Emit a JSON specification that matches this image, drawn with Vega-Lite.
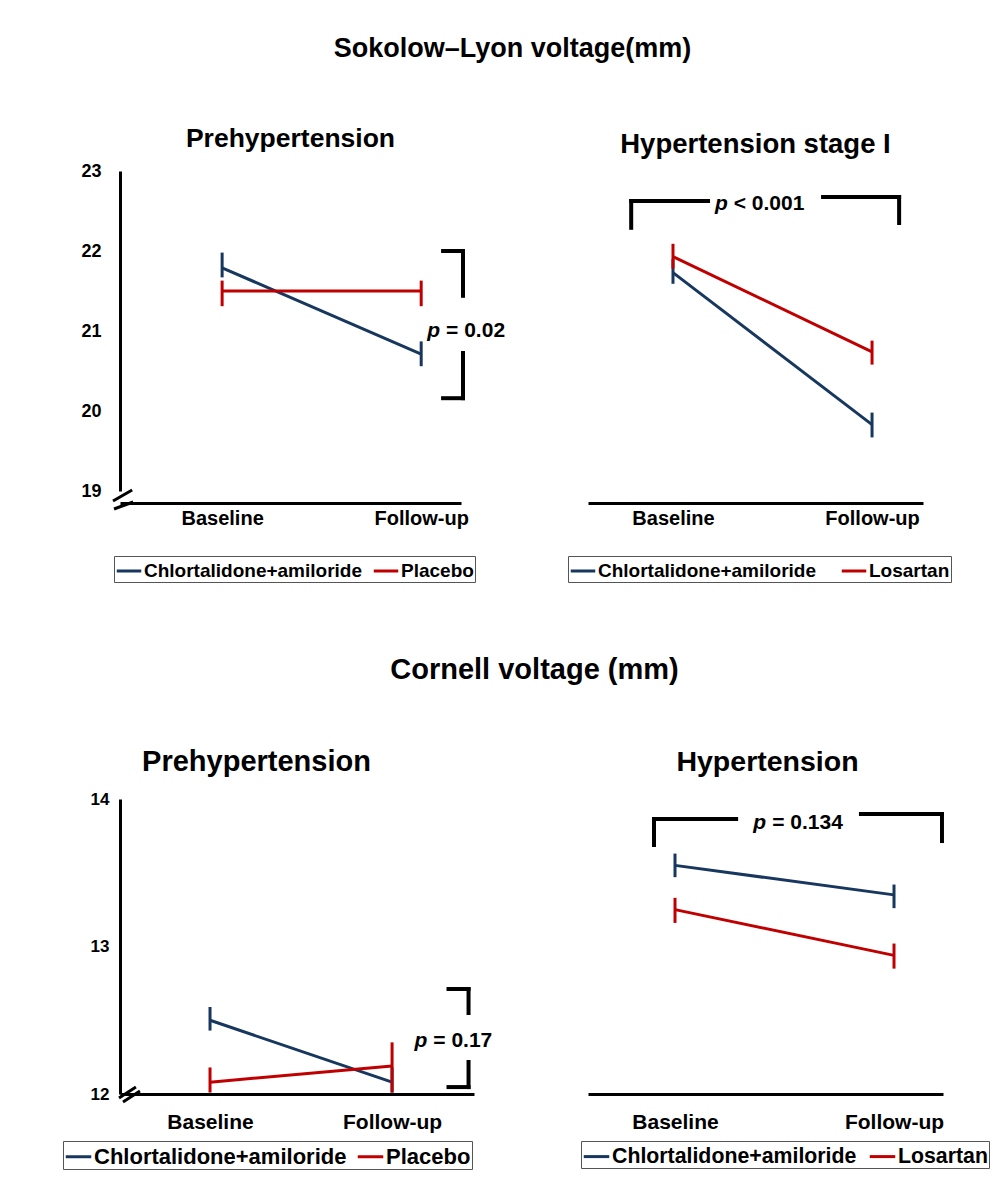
{
  "$schema": "https://vega.github.io/schema/vega-lite/v6.json",
  "padding": {"left": 62, "top": 34, "right": 5, "bottom": 5},
  "bounds": "flush",
  "columns": 2,
  "spacing": {"row": 308, "column": 114},
  "datasets": {
    "series": [
      {"panel": "TL", "group": "Chlortalidone+amiloride", "t": 0, "v": 21.79, "lo": 21.67, "hi": 21.98},
      {"panel": "TL", "group": "Chlortalidone+amiloride", "t": 1, "v": 20.71, "lo": 20.56, "hi": 20.87},
      {"panel": "TL", "group": "Placebo", "t": 0, "v": 21.5, "lo": 21.31, "hi": 21.63},
      {"panel": "TL", "group": "Placebo", "t": 1, "v": 21.5, "lo": 21.31, "hi": 21.63},
      {"panel": "TR", "group": "Chlortalidone+amiloride", "t": 0, "v": 21.73, "lo": 21.59, "hi": 21.9},
      {"panel": "TR", "group": "Chlortalidone+amiloride", "t": 1, "v": 19.83, "lo": 19.67, "hi": 19.98},
      {"panel": "TR", "group": "Losartan", "t": 0, "v": 21.93, "lo": 21.78, "hi": 22.09},
      {"panel": "TR", "group": "Losartan", "t": 1, "v": 20.74, "lo": 20.58, "hi": 20.88},
      {"panel": "BL", "group": "Chlortalidone+amiloride", "t": 0, "v": 12.5, "lo": 12.43, "hi": 12.59},
      {"panel": "BL", "group": "Chlortalidone+amiloride", "t": 1, "v": 12.08, "lo": 12.01, "hi": 12.18},
      {"panel": "BL", "group": "Placebo", "t": 0, "v": 12.08, "lo": 12.01, "hi": 12.18},
      {"panel": "BL", "group": "Placebo", "t": 1, "v": 12.19, "lo": 12.01, "hi": 12.35},
      {"panel": "BR", "group": "Chlortalidone+amiloride", "t": 0, "v": 13.55, "lo": 13.47, "hi": 13.63},
      {"panel": "BR", "group": "Chlortalidone+amiloride", "t": 1, "v": 13.35, "lo": 13.26, "hi": 13.42},
      {"panel": "BR", "group": "Losartan", "t": 0, "v": 13.25, "lo": 13.16, "hi": 13.33},
      {"panel": "BR", "group": "Losartan", "t": 1, "v": 12.94, "lo": 12.85, "hi": 13.02}
    ],
    "brackets": [
      {"panel": "TL", "x": 1.11, "x2": 1.21, "y": 22.0, "y2": 22.0},
      {"panel": "TL", "x": 1.21, "x2": 1.21, "y": 22.0, "y2": 21.44},
      {"panel": "TL", "x": 1.21, "x2": 1.21, "y": 20.725, "y2": 20.16},
      {"panel": "TL", "x": 1.11, "x2": 1.21, "y": 20.16, "y2": 20.16},
      {"panel": "TR", "x": -0.21, "x2": -0.21, "y": 22.29, "y2": 22.625},
      {"panel": "TR", "x": -0.21, "x2": 0.176, "y": 22.625, "y2": 22.625},
      {"panel": "TR", "x": 0.754, "x2": 1.136, "y": 22.675, "y2": 22.675},
      {"panel": "TR", "x": 1.136, "x2": 1.136, "y": 22.675, "y2": 22.35},
      {"panel": "BL", "x": 1.31, "x2": 1.42, "y": 12.712, "y2": 12.712},
      {"panel": "BL", "x": 1.42, "x2": 1.42, "y": 12.712, "y2": 12.549},
      {"panel": "BL", "x": 1.42, "x2": 1.42, "y": 12.217, "y2": 12.047},
      {"panel": "BL", "x": 1.31, "x2": 1.42, "y": 12.047, "y2": 12.047},
      {"panel": "BR", "x": -0.096, "x2": -0.096, "y": 13.688, "y2": 13.864},
      {"panel": "BR", "x": -0.096, "x2": 0.279, "y": 13.864, "y2": 13.864},
      {"panel": "BR", "x": 0.849, "x2": 1.219, "y": 13.898, "y2": 13.898},
      {"panel": "BR", "x": 1.219, "x2": 1.219, "y": 13.898, "y2": 13.715}
    ],
    "ptext": [
      {"panel": "TL", "x": 1.11, "y": 21.0, "rest": "= 0.02"},
      {"panel": "TR", "x": 0.29, "y": 22.59, "rest": "< 0.001"},
      {"panel": "BL", "x": 1.21, "y": 12.36, "rest": "= 0.17"},
      {"panel": "BR", "x": 0.43, "y": 13.84, "rest": "= 0.134"}
    ],
    "breaks": [
      {"panel": "TL", "x": -0.548, "x2": -0.452, "y": 18.875, "y2": 19.0125},
      {"panel": "TL", "x": -0.543, "x2": -0.447, "y": 18.775, "y2": 18.8625},
      {"panel": "BL", "x": -0.5, "x2": -0.407, "y": 11.973, "y2": 12.047},
      {"panel": "BL", "x": -0.478, "x2": -0.385, "y": 11.946, "y2": 12.02}
    ]
  },
  "config": {
    "font": "Liberation Sans",
    "view": {"stroke": null},
    "title": {"fontWeight": "bold", "color": "black", "font": "Liberation Sans", "frame": "group", "anchor": "middle"},
    "axis": {"grid": false, "ticks": false, "tickSize": 0, "domainColor": "black", "domainWidth": 3, "labelFontWeight": "bold", "labelColor": "black", "labelFont": "Liberation Sans", "labelFlush": false, "labelOverlap": false, "labelBound": false, "titleFont": "Liberation Sans", "titleFontWeight": "bold", "titleColor": "black"},
    "text": {"font": "Liberation Sans", "color": "black"},
    "legend": {"labelFont": "Liberation Sans"}
  },
  "resolve": {"scale": {"color": "independent", "x": "independent", "y": "independent"}, "legend": {"color": "independent"}},
  "concat": [
    {
      "width": 341, "height": 320,
      "layer": [
        {
          "data": {"name": "series"}, "transform": [{"filter": "datum.panel === 'TL'"}],
          "mark": {"type": "line", "strokeWidth": 3},
          "encoding": {
            "x": {"field": "t", "type": "quantitative", "scale": {"domain": [-0.513, 1.2], "nice": false, "zero": false},
                  "axis": {"values": [0, 1], "labelExpr": "datum.value === 0 ? 'Baseline' : 'Follow-up'", "offset": 12, "labelFontSize": 20, "labelPadding": 5,
                           "title": "Prehypertension", "titleAngle": 0, "titleAlign": "center", "titleBaseline": "middle", "titleFontSize": 26.5, "titleX": 170, "titleY": -365}},
            "y": {"field": "v", "type": "quantitative", "scale": {"domain": [19, 23], "nice": false, "zero": false},
                  "axis": {"values": [19, 20, 21, 22, 23], "labelExpr": "format(datum.value, 'd')", "labelFontSize": 18, "labelPadding": 19,
                           "title": "Sokolow–Lyon voltage(mm)", "titleAngle": 0, "titleAlign": "center", "titleBaseline": "middle", "titleFontSize": 27, "titleX": 392, "titleY": -123}},
            "color": {"field": "group", "type": "nominal",
                      "scale": {"domain": ["Chlortalidone+amiloride", "Placebo"], "range": ["#17375E", "#C00000"]},
                      "legend": {"orient": "none", "legendX": -6, "legendY": 385, "direction": "horizontal", "title": null, "symbolType": "stroke", "symbolStrokeWidth": 3, "symbolSize": 600, "labelFontSize": 19, "labelFontWeight": "bold", "labelColor": "black", "strokeColor": "#555", "fillColor": "white", "padding": 1, "columnPadding": 4, "labelOffset": 1, "labelLimit": 400}}
          }
        },
        {
          "data": {"name": "series"}, "transform": [{"filter": "datum.panel === 'TL'"}],
          "mark": {"type": "rule", "strokeWidth": 3},
          "encoding": {
            "x": {"field": "t", "type": "quantitative", "scale": {"domain": [-0.513, 1.2], "nice": false, "zero": false}},
            "y": {"field": "lo", "type": "quantitative", "scale": {"domain": [19, 23], "nice": false, "zero": false}},
            "y2": {"field": "hi"},
            "color": {"field": "group", "type": "nominal", "scale": {"domain": ["Chlortalidone+amiloride", "Placebo"], "range": ["#17375E", "#C00000"]}, "legend": null}
          }
        },
        {
          "data": {"name": "brackets"}, "transform": [{"filter": "datum.panel === 'TL'"}],
          "mark": {"type": "rule", "strokeWidth": 4, "color": "black", "strokeCap": "square"},
          "encoding": {
            "x": {"field": "x", "type": "quantitative", "scale": {"domain": [-0.513, 1.2], "nice": false, "zero": false}},
            "x2": {"field": "x2"},
            "y": {"field": "y", "type": "quantitative", "scale": {"domain": [19, 23], "nice": false, "zero": false}},
            "y2": {"field": "y2"}
          }
        },
        {
          "data": {"name": "breaks"}, "transform": [{"filter": "datum.panel === 'TL'"}],
          "mark": {"type": "rule", "strokeWidth": 3, "color": "black"},
          "encoding": {
            "x": {"field": "x", "type": "quantitative", "scale": {"domain": [-0.513, 1.2], "nice": false, "zero": false}},
            "x2": {"field": "x2"},
            "y": {"field": "y", "type": "quantitative", "scale": {"domain": [19, 23], "nice": false, "zero": false}},
            "y2": {"field": "y2"}
          }
        },
        {
          "data": {"name": "ptext"}, "transform": [{"filter": "datum.panel === 'TL'"}],
          "mark": {"type": "text", "text": "p", "fontStyle": "italic", "fontWeight": "bold", "fontSize": 21, "align": "right", "baseline": "middle", "dx": -3},
          "encoding": {
            "x": {"field": "x", "type": "quantitative", "scale": {"domain": [-0.513, 1.2], "nice": false, "zero": false}},
            "y": {"field": "y", "type": "quantitative", "scale": {"domain": [19, 23], "nice": false, "zero": false}}
          }
        },
        {
          "data": {"name": "ptext"}, "transform": [{"filter": "datum.panel === 'TL'"}],
          "mark": {"type": "text", "fontWeight": "bold", "fontSize": 21, "align": "left", "baseline": "middle", "dx": 3},
          "encoding": {
            "x": {"field": "x", "type": "quantitative", "scale": {"domain": [-0.513, 1.2], "nice": false, "zero": false}},
            "y": {"field": "y", "type": "quantitative", "scale": {"domain": [19, 23], "nice": false, "zero": false}},
            "text": {"field": "rest"}
          }
        }
      ]
    },
    {
      "width": 335, "height": 320,
      "title": {"text": "Hypertension stage I", "fontSize": 27.5, "offset": 13},
      "layer": [
        {
          "data": {"name": "series"}, "transform": [{"filter": "datum.panel === 'TR'"}],
          "mark": {"type": "line", "strokeWidth": 3},
          "encoding": {
            "x": {"field": "t", "type": "quantitative", "title": null, "scale": {"domain": [-0.427, 1.256], "nice": false, "zero": false},
                  "axis": {"values": [0, 1], "labelExpr": "datum.value === 0 ? 'Baseline' : 'Follow-up'", "offset": 12, "labelFontSize": 20, "labelPadding": 5}},
            "y": {"field": "v", "type": "quantitative", "title": null, "scale": {"domain": [19, 23], "nice": false, "zero": false}, "axis": null},
            "color": {"field": "group", "type": "nominal",
                      "scale": {"domain": ["Chlortalidone+amiloride", "Losartan"], "range": ["#17375E", "#C00000"]},
                      "legend": {"orient": "none", "legendX": -20, "legendY": 385, "direction": "horizontal", "title": null, "symbolType": "stroke", "symbolStrokeWidth": 3, "symbolSize": 600, "labelFontSize": 19, "labelFontWeight": "bold", "labelColor": "black", "strokeColor": "#555", "fillColor": "white", "padding": 1, "columnPadding": 18, "labelOffset": 1, "labelLimit": 400}}
          }
        },
        {
          "data": {"name": "series"}, "transform": [{"filter": "datum.panel === 'TR'"}],
          "mark": {"type": "rule", "strokeWidth": 3},
          "encoding": {
            "x": {"field": "t", "type": "quantitative", "title": null, "scale": {"domain": [-0.427, 1.256], "nice": false, "zero": false}},
            "y": {"field": "lo", "type": "quantitative", "title": null, "scale": {"domain": [19, 23], "nice": false, "zero": false}, "axis": null},
            "y2": {"field": "hi"},
            "color": {"field": "group", "type": "nominal", "scale": {"domain": ["Chlortalidone+amiloride", "Losartan"], "range": ["#17375E", "#C00000"]}, "legend": null}
          }
        },
        {
          "data": {"name": "brackets"}, "transform": [{"filter": "datum.panel === 'TR'"}],
          "mark": {"type": "rule", "strokeWidth": 4, "color": "black", "strokeCap": "square"},
          "encoding": {
            "x": {"field": "x", "type": "quantitative", "title": null, "scale": {"domain": [-0.427, 1.256], "nice": false, "zero": false}},
            "x2": {"field": "x2"},
            "y": {"field": "y", "type": "quantitative", "title": null, "scale": {"domain": [19, 23], "nice": false, "zero": false}, "axis": null},
            "y2": {"field": "y2"}
          }
        },
        {
          "data": {"name": "ptext"}, "transform": [{"filter": "datum.panel === 'TR'"}],
          "mark": {"type": "text", "text": "p", "fontStyle": "italic", "fontWeight": "bold", "fontSize": 21, "align": "right", "baseline": "middle", "dx": -3},
          "encoding": {
            "x": {"field": "x", "type": "quantitative", "title": null, "scale": {"domain": [-0.427, 1.256], "nice": false, "zero": false}},
            "y": {"field": "y", "type": "quantitative", "title": null, "scale": {"domain": [19, 23], "nice": false, "zero": false}, "axis": null}
          }
        },
        {
          "data": {"name": "ptext"}, "transform": [{"filter": "datum.panel === 'TR'"}],
          "mark": {"type": "text", "fontWeight": "bold", "fontSize": 21, "align": "left", "baseline": "middle", "dx": 3},
          "encoding": {
            "x": {"field": "x", "type": "quantitative", "title": null, "scale": {"domain": [-0.427, 1.256], "nice": false, "zero": false}},
            "y": {"field": "y", "type": "quantitative", "title": null, "scale": {"domain": [19, 23], "nice": false, "zero": false}, "axis": null},
            "text": {"field": "rest"}
          }
        }
      ]
    },
    {
      "width": 354, "height": 295,
      "layer": [
        {
          "data": {"name": "series"}, "transform": [{"filter": "datum.panel === 'BL'"}],
          "mark": {"type": "line", "strokeWidth": 3},
          "encoding": {
            "x": {"field": "t", "type": "quantitative", "scale": {"domain": [-0.4945, 1.45], "nice": false, "zero": false},
                  "axis": {"values": [0, 1], "labelExpr": "datum.value === 0 ? 'Baseline' : 'Follow-up'", "offset": 0, "labelFontSize": 21, "labelPadding": 17,
                           "title": "Prehypertension", "titleAngle": 0, "titleAlign": "center", "titleBaseline": "middle", "titleFontSize": 29, "titleX": 136, "titleY": -333}},
            "y": {"field": "v", "type": "quantitative", "scale": {"domain": [12, 14], "nice": false, "zero": false},
                  "axis": {"values": [12, 13, 14], "labelExpr": "format(datum.value, 'd')", "labelOverlap": false, "labelFontSize": 17, "labelPadding": 11,
                           "title": "Cornell voltage (mm)", "titleAngle": 0, "titleAlign": "center", "titleBaseline": "middle", "titleFontSize": 29, "titleX": 414, "titleY": -130}},
            "color": {"field": "group", "type": "nominal",
                      "scale": {"domain": ["Chlortalidone+amiloride", "Placebo"], "range": ["#17375E", "#C00000"]},
                      "legend": {"orient": "none", "legendX": -57, "legendY": 342, "direction": "horizontal", "title": null, "symbolType": "stroke", "symbolStrokeWidth": 3, "symbolSize": 650, "labelFontSize": 22, "labelFontWeight": "bold", "labelColor": "black", "strokeColor": "#555", "fillColor": "white", "padding": 1, "columnPadding": 4, "labelOffset": 1, "labelLimit": 400}}
          }
        },
        {
          "data": {"name": "series"}, "transform": [{"filter": "datum.panel === 'BL'"}],
          "mark": {"type": "rule", "strokeWidth": 3},
          "encoding": {
            "x": {"field": "t", "type": "quantitative", "scale": {"domain": [-0.4945, 1.45], "nice": false, "zero": false}},
            "y": {"field": "lo", "type": "quantitative", "scale": {"domain": [12, 14], "nice": false, "zero": false}},
            "y2": {"field": "hi"},
            "color": {"field": "group", "type": "nominal", "scale": {"domain": ["Chlortalidone+amiloride", "Placebo"], "range": ["#17375E", "#C00000"]}, "legend": null}
          }
        },
        {
          "data": {"name": "brackets"}, "transform": [{"filter": "datum.panel === 'BL'"}],
          "mark": {"type": "rule", "strokeWidth": 4, "color": "black", "strokeCap": "square"},
          "encoding": {
            "x": {"field": "x", "type": "quantitative", "scale": {"domain": [-0.4945, 1.45], "nice": false, "zero": false}},
            "x2": {"field": "x2"},
            "y": {"field": "y", "type": "quantitative", "scale": {"domain": [12, 14], "nice": false, "zero": false}},
            "y2": {"field": "y2"}
          }
        },
        {
          "data": {"name": "breaks"}, "transform": [{"filter": "datum.panel === 'BL'"}],
          "mark": {"type": "rule", "strokeWidth": 3, "color": "black"},
          "encoding": {
            "x": {"field": "x", "type": "quantitative", "scale": {"domain": [-0.4945, 1.45], "nice": false, "zero": false}},
            "x2": {"field": "x2"},
            "y": {"field": "y", "type": "quantitative", "scale": {"domain": [12, 14], "nice": false, "zero": false}},
            "y2": {"field": "y2"}
          }
        },
        {
          "data": {"name": "ptext"}, "transform": [{"filter": "datum.panel === 'BL'"}],
          "mark": {"type": "text", "text": "p", "fontStyle": "italic", "fontWeight": "bold", "fontSize": 21, "align": "right", "baseline": "middle", "dx": -3},
          "encoding": {
            "x": {"field": "x", "type": "quantitative", "scale": {"domain": [-0.4945, 1.45], "nice": false, "zero": false}},
            "y": {"field": "y", "type": "quantitative", "scale": {"domain": [12, 14], "nice": false, "zero": false}}
          }
        },
        {
          "data": {"name": "ptext"}, "transform": [{"filter": "datum.panel === 'BL'"}],
          "mark": {"type": "text", "fontWeight": "bold", "fontSize": 21, "align": "left", "baseline": "middle", "dx": 3},
          "encoding": {
            "x": {"field": "x", "type": "quantitative", "scale": {"domain": [-0.4945, 1.45], "nice": false, "zero": false}},
            "y": {"field": "y", "type": "quantitative", "scale": {"domain": [12, 14], "nice": false, "zero": false}},
            "text": {"field": "rest"}
          }
        }
      ]
    },
    {
      "width": 355, "height": 295,
      "title": {"text": "Hypertension", "fontSize": 28.5, "offset": 23, "dx": 2},
      "layer": [
        {
          "data": {"name": "series"}, "transform": [{"filter": "datum.panel === 'BR'"}],
          "mark": {"type": "line", "strokeWidth": 3},
          "encoding": {
            "x": {"field": "t", "type": "quantitative", "title": null, "scale": {"domain": [-0.3973, 1.2237], "nice": false, "zero": false},
                  "axis": {"values": [0, 1], "labelExpr": "datum.value === 0 ? 'Baseline' : 'Follow-up'", "offset": 0, "labelFontSize": 21, "labelPadding": 17}},
            "y": {"field": "v", "type": "quantitative", "title": null, "scale": {"domain": [12, 14], "nice": false, "zero": false}, "axis": null},
            "color": {"field": "group", "type": "nominal",
                      "scale": {"domain": ["Chlortalidone+amiloride", "Losartan"], "range": ["#17375E", "#C00000"]},
                      "legend": {"orient": "none", "legendX": -7, "legendY": 342, "direction": "horizontal", "title": null, "symbolType": "stroke", "symbolStrokeWidth": 3, "symbolSize": 650, "labelFontSize": 21.3, "labelFontWeight": "bold", "labelColor": "black", "strokeColor": "#555", "fillColor": "white", "padding": 1, "columnPadding": 6, "labelOffset": 1, "labelLimit": 400}}
          }
        },
        {
          "data": {"name": "series"}, "transform": [{"filter": "datum.panel === 'BR'"}],
          "mark": {"type": "rule", "strokeWidth": 3},
          "encoding": {
            "x": {"field": "t", "type": "quantitative", "title": null, "scale": {"domain": [-0.3973, 1.2237], "nice": false, "zero": false}},
            "y": {"field": "lo", "type": "quantitative", "title": null, "scale": {"domain": [12, 14], "nice": false, "zero": false}, "axis": null},
            "y2": {"field": "hi"},
            "color": {"field": "group", "type": "nominal", "scale": {"domain": ["Chlortalidone+amiloride", "Losartan"], "range": ["#17375E", "#C00000"]}, "legend": null}
          }
        },
        {
          "data": {"name": "brackets"}, "transform": [{"filter": "datum.panel === 'BR'"}],
          "mark": {"type": "rule", "strokeWidth": 4, "color": "black", "strokeCap": "square"},
          "encoding": {
            "x": {"field": "x", "type": "quantitative", "title": null, "scale": {"domain": [-0.3973, 1.2237], "nice": false, "zero": false}},
            "x2": {"field": "x2"},
            "y": {"field": "y", "type": "quantitative", "title": null, "scale": {"domain": [12, 14], "nice": false, "zero": false}, "axis": null},
            "y2": {"field": "y2"}
          }
        },
        {
          "data": {"name": "ptext"}, "transform": [{"filter": "datum.panel === 'BR'"}],
          "mark": {"type": "text", "text": "p", "fontStyle": "italic", "fontWeight": "bold", "fontSize": 21, "align": "right", "baseline": "middle", "dx": -3},
          "encoding": {
            "x": {"field": "x", "type": "quantitative", "title": null, "scale": {"domain": [-0.3973, 1.2237], "nice": false, "zero": false}},
            "y": {"field": "y", "type": "quantitative", "title": null, "scale": {"domain": [12, 14], "nice": false, "zero": false}, "axis": null}
          }
        },
        {
          "data": {"name": "ptext"}, "transform": [{"filter": "datum.panel === 'BR'"}],
          "mark": {"type": "text", "fontWeight": "bold", "fontSize": 21, "align": "left", "baseline": "middle", "dx": 3},
          "encoding": {
            "x": {"field": "x", "type": "quantitative", "title": null, "scale": {"domain": [-0.3973, 1.2237], "nice": false, "zero": false}},
            "y": {"field": "y", "type": "quantitative", "title": null, "scale": {"domain": [12, 14], "nice": false, "zero": false}, "axis": null},
            "text": {"field": "rest"}
          }
        }
      ]
    }
  ]
}
